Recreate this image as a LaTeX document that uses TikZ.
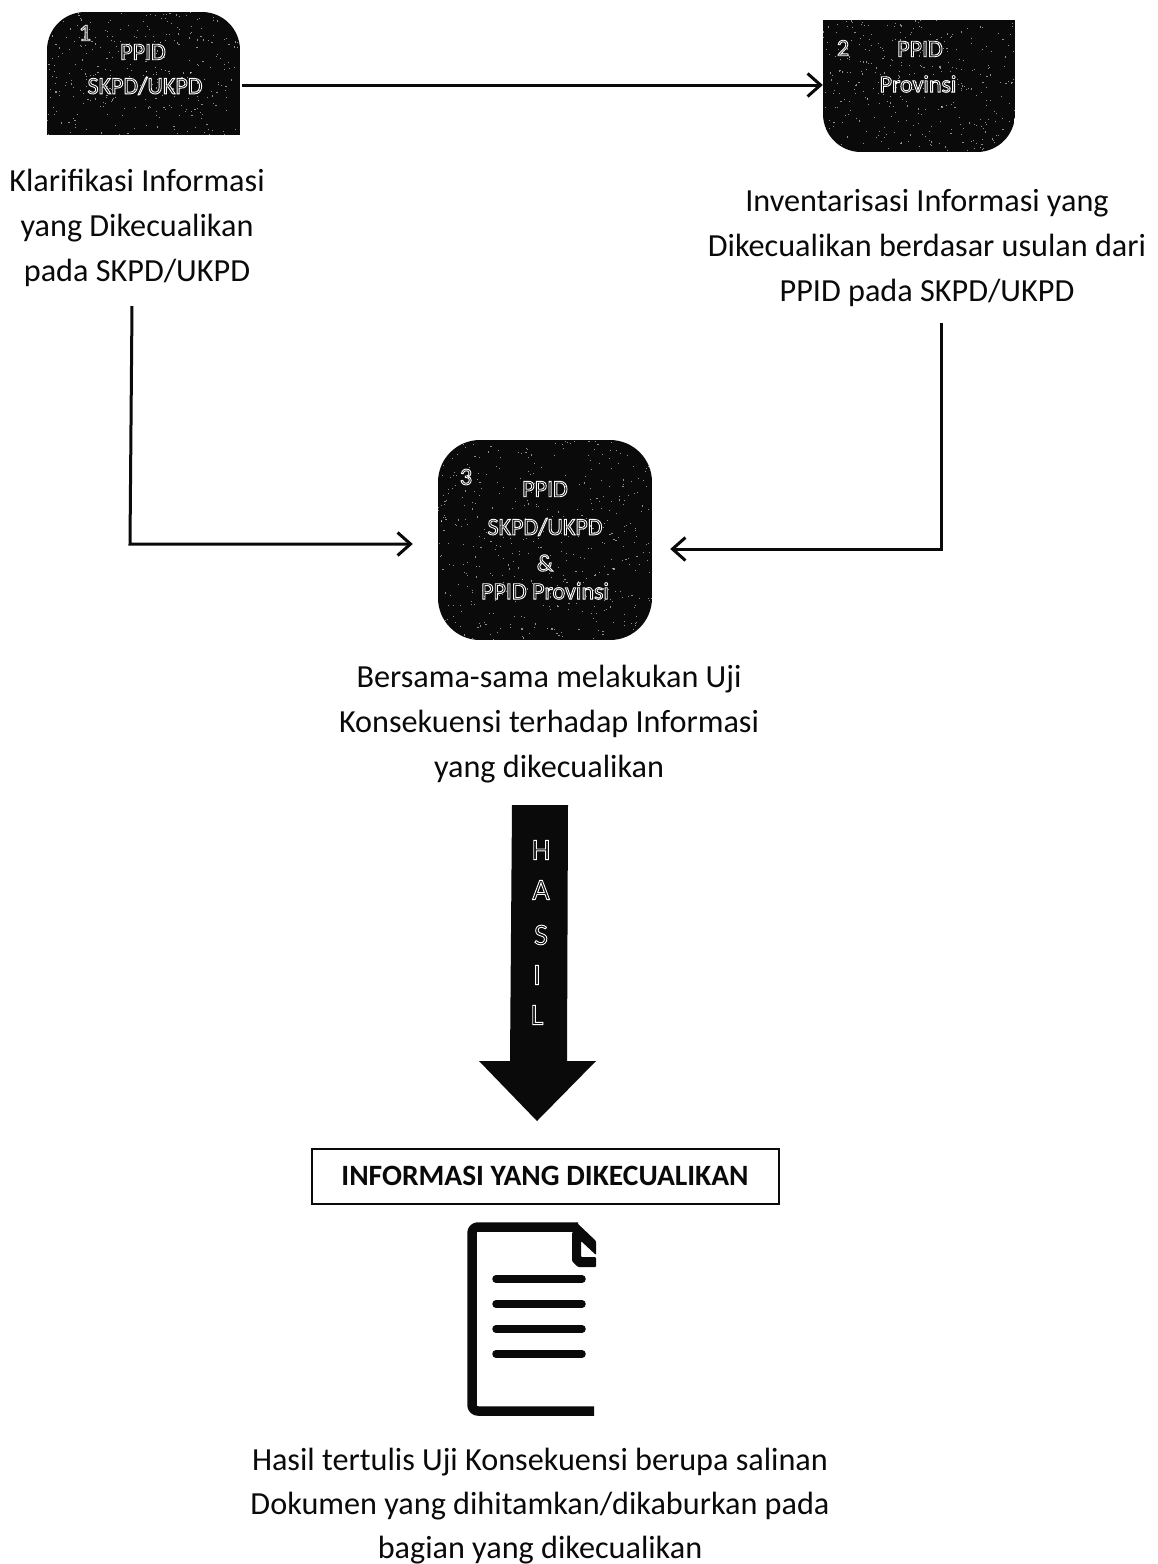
\documentclass[tikz,border=0pt]{standalone}
\usepackage{fontspec}
\setmainfont{Carlito}
\usetikzlibrary{arrows.meta}
\newcommand{\outl}[1]{\special{pdf:code q 1 Tr 0.9 w 1 1 1 RG}#1\special{pdf:code Q}}
\definecolor{ink}{HTML}{0A0A0A}
\tikzset{
  x=1pt,y=-1pt,
  caption/.style={align=center,font=\fontsize{32.2}{45}\selectfont,text=ink,inner sep=0},
  conn/.style={draw=ink,line width=3pt,-{Straight Barb[length=13pt,width=23pt,line width=3pt]}},
  lab/.style={font=\fontsize{24}{26}\selectfont,text=white,inner sep=0},
  hasil/.style={font=\fontsize{30}{32}\selectfont,text=white,inner sep=0},
  docline/.style={draw=ink,line width=7.5pt,line cap=round},
  docframe/.style={draw=ink,line width=9.5pt,line join=round},
}
\newcommand{\specks}[4]{%
  \pgfmathsetseed{#4}%
  \foreach \k in {1,...,#3}{%
    \pgfmathsetmacro{\sx}{rnd*#1}\pgfmathsetmacro{\sy}{rnd*#2}%
    \fill[white,opacity=.55] (\sx,\sy) rectangle ++(1.1,1.1);}}
\begin{document}
\begin{tikzpicture}
\useasboundingbox (0,0) rectangle (1158,1564);
\fill[white] (0,0) rectangle (1158,1564);
% box 1
\begin{scope}
\clip (47,12) rectangle (240,135);
\clip[rounded corners=38pt] (47,12) rectangle (240,220);
\fill[ink] (47,12) rectangle (240,135);
\begin{scope}[shift={(47,12)}]\specks{193}{123}{330}{11}\end{scope}
\end{scope}
\node[minimum width=193pt,minimum height=123pt,inner sep=0] (n1) at (143.5,73.5) {};
\node[lab] (n1num) at (85,33) {\outl{1}};
\node[lab] (n1a) at (143,52) {\outl{PPID}};
\node[lab] (n1b) at (145,86) {\outl{SKPD/UKPD}};
% box 2
\begin{scope}
\clip (823,20) rectangle (1015,152);
\clip[rounded corners=38pt] (823,-70) rectangle (1015,152);
\fill[ink] (823,20) rectangle (1015,152);
\begin{scope}[shift={(823,20)}]\specks{192}{132}{350}{22}\end{scope}
\end{scope}
\node[minimum width=192pt,minimum height=132pt,inner sep=0] (n2) at (919,86) {};
\node[lab] (n2num) at (843,48) {\outl{2}};
\node[lab] (n2a) at (920,49) {\outl{PPID}};
\node[lab] (n2b) at (918,84) {\outl{Provinsi}};
% box 3
\begin{scope}
\clip[rounded corners=42pt] (438,440) rectangle (652,640);
\fill[ink] (438,440) rectangle (652,640);
\begin{scope}[shift={(438,440)}]\specks{214}{200}{450}{33}\end{scope}
\end{scope}
\node[minimum width=214pt,minimum height=200pt,inner sep=0] (n3) at (545,540) {};
\node[lab] (n3num) at (466,477) {\outl{3}};
\node[lab] (n3a) at (545,489) {\outl{PPID}};
\node[lab] (n3b) at (545,527) {\outl{SKPD/UKPD}};
\node[lab] (n3c) at (545,563) {\outl{\&}};
\node[lab] (n3d) at (545,591) {\outl{PPID Provinsi}};
% captions
\node[caption] (t1) at (137,228) {Klarifikasi Informasi\\yang Dikecualikan\\pada SKPD/UKPD};
\node[caption] (t2) at (927,248) {Inventarisasi Informasi yang\\Dikecualikan berdasar usulan dari\\PPID pada SKPD/UKPD};
\node[caption] (t3) at (549,724) {Bersama-sama melakukan Uji\\Konsekuensi terhadap Informasi\\yang dikecualikan};
\node[caption,font=\fontsize{32.2}{44}\selectfont] (t4) at (540,1506) {Hasil tertulis Uji Konsekuensi berupa salinan\\Dokumen yang dihitamkan/dikaburkan pada\\bagian yang dikecualikan};
% connectors
\coordinate (c1) at (132,306);
\coordinate (c1b) at (130,544);
\coordinate (c2) at (941,323);
\draw[conn,shorten <=2pt] (n1.east |- 0,85) -- (n2.west |- 0,85);
\draw[conn,shorten >=25pt] (c1) -- (c1b) -- ([yshift=-4pt]n3.west);
\draw[conn,shorten >=18pt] (c2) |- ([yshift=-9pt]n3.east);
% big arrow
\fill[ink] (512,805) -- (568,805) -- (567,1061) -- (596,1061) -- (537,1121) -- (479,1061) -- (510,1061) -- cycle;
\node[hasil] (h1) at (541,850) {\outl{H}};
\node[hasil] (h2) at (541,890) {\outl{A}};
\node[hasil] (h3) at (541,935) {\outl{S}};
\node[hasil] (h4) at (537,975) {\outl{I}};
\node[hasil] (h5) at (537,1015) {\outl{L}};
% title box
\node[draw=ink,line width=2pt,minimum width=467pt,minimum height=55pt,inner sep=0,font=\fontsize{29.5}{32}\bfseries\selectfont,text=ink] (box) at (545,1176) {INFORMASI YANG DIKECUALIKAN};
% document icon
\draw[docframe] (594,1411) -- (480,1411) [rounded corners=6pt] -- (472,1411) -- (472,1227) -- (578,1227);
\fill[ink,rounded corners=1pt] (576,1222) -- (596,1241) -- (596,1255) -- (581,1241) -- (581,1257) -- (596,1257) -- (596,1267) -- (578,1267) -- (572,1261) -- (572,1232) -- (576,1232) -- cycle;
\draw[docline] (496,1279) -- (582,1279);
\draw[docline] (496,1304) -- (582,1304);
\draw[docline] (496,1329) -- (582,1329);
\draw[docline] (496,1354) -- (582,1354);
\end{tikzpicture}
\end{document}
